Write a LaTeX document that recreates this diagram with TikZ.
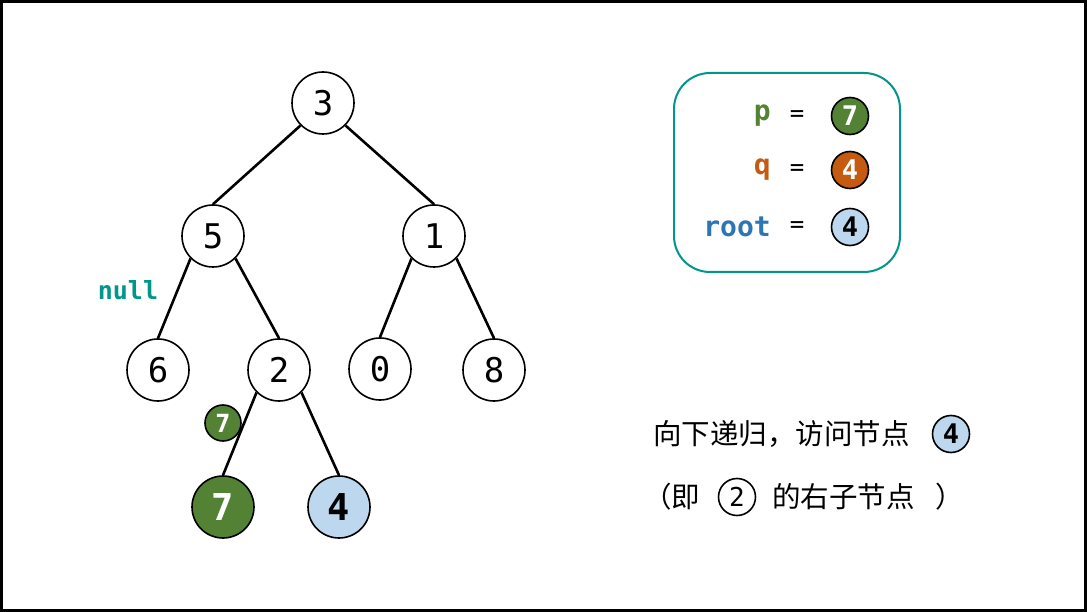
\documentclass[tikz,border=0pt]{standalone}
\usepackage{fontspec}
\setmonofont{DejaVu Sans Mono}
\newfontfamily\cjk{Noto Sans CJK SC}
\usepackage{xcolor}
\definecolor{leafgreen}{HTML}{548235}
\definecolor{rustorange}{HTML}{C55A11}
\definecolor{paleblue}{HTML}{BDD7EE}
\definecolor{rootblue}{HTML}{2E75B6}
\definecolor{tealline}{HTML}{00968A}

\begin{document}
\begin{tikzpicture}[x=1pt,y=-1pt,
  tnode/.style={circle,draw,line width=1.6pt,minimum size=62pt,inner sep=0pt,fill=white,
    font=\fontsize{34}{34}\selectfont\ttfamily},
  hnode/.style={tnode,font=\fontsize{37}{37}\selectfont\ttfamily\bfseries},
  tag/.style={circle,draw,line width=1.6pt,minimum size=37pt,inner sep=0pt,
    font=\fontsize{25}{25}\selectfont\ttfamily\bfseries},
  edge/.style={line width=2.6pt},
  key/.style={anchor=east,inner sep=0pt,font=\fontsize{28}{28}\selectfont\ttfamily\bfseries},
  says/.style={anchor=west,inner sep=0pt,font=\fontsize{28.5}{28.5}\selectfont\cjk}]
  \useasboundingbox (0,0) rectangle (1087,612);
  \draw[line width=3pt] (1.5,1.5) rectangle (1085.5,610.5);

  % tree
  \node[tnode] (n3) at (323,103) {3};
  \node[tnode] (n5) at (213,236) {5};
  \node[tnode] (n1) at (434,236) {1};
  \node[tnode] (n6) at (158,370) {6};
  \node[tnode] (n2) at (279,370) {2};
  \node[tnode] (n0) at (380,369) {0};
  \node[tnode] (n8) at (494,370) {8};
  \node[hnode,fill=leafgreen,text=white] (n7) at (223,507) {7};
  \node[hnode,fill=paleblue] (n4) at (339,507) {4};

  \foreach \p/\a/\c in {n3/south west/n5,n3/south east/n1,n5/south west/n6,n5/south east/n2,
      n1/south west/n0,n1/south east/n8,n2/south west/n7,n2/south east/n4}
    \draw[edge] (\p.\a) -- (\c.north);

  \node[tag,minimum size=36pt,fill=leafgreen,text=white,font=\fontsize{25}{25}\selectfont\ttfamily\bfseries] (ret7) at (223,423) {7};
  \node[inner sep=0pt,text=tealline,font=\fontsize{25}{25}\selectfont\ttfamily\bfseries] (null) at (128,290) {null};

  % legend
  \draw[tealline,line width=2pt,rounded corners=36pt] (674,73) rectangle (900,272);
  \node[key,text=leafgreen] (kp) at (771,116) {p};
  \node[key,text=rustorange] (kq) at (771,170) {q};
  \node[key,text=rootblue] (kroot) at (771,227) {root};
  \foreach \y/\n in {116/ep,170/eq,227/eroot}
    \node[inner sep=0pt,font=\fontsize{24}{24}\selectfont\ttfamily] (\n) at (797,\y) {=};
  \node[tag,fill=leafgreen,text=white,font=\fontsize{27}{27}\selectfont\ttfamily\bfseries] (vp) at (850,116) {7};
  \node[tag,fill=rustorange,text=white,font=\fontsize{27}{27}\selectfont\ttfamily\bfseries] (vq) at (850,170) {4};
  \node[tag,fill=paleblue,font=\fontsize{27}{27}\selectfont\ttfamily\bfseries] (vroot) at (850,227) {4};

  % note
  \node[says] (line1) at (653,434) {向下递归，访问节点};
  \node[tag,fill=paleblue,font=\fontsize{27}{27}\selectfont\ttfamily\bfseries] (c4) at (951,434) {4};
  \node[says] (line2a) at (643,497) {（即};
  \node[tag,font=\fontsize{26}{26}\selectfont\ttfamily] (c2) at (737,497) {2};
  \node[says] (line2b) at (772,497) {的右子节点};
  \node[says] (line2c) at (935,497) {）};
\end{tikzpicture}
\end{document}
